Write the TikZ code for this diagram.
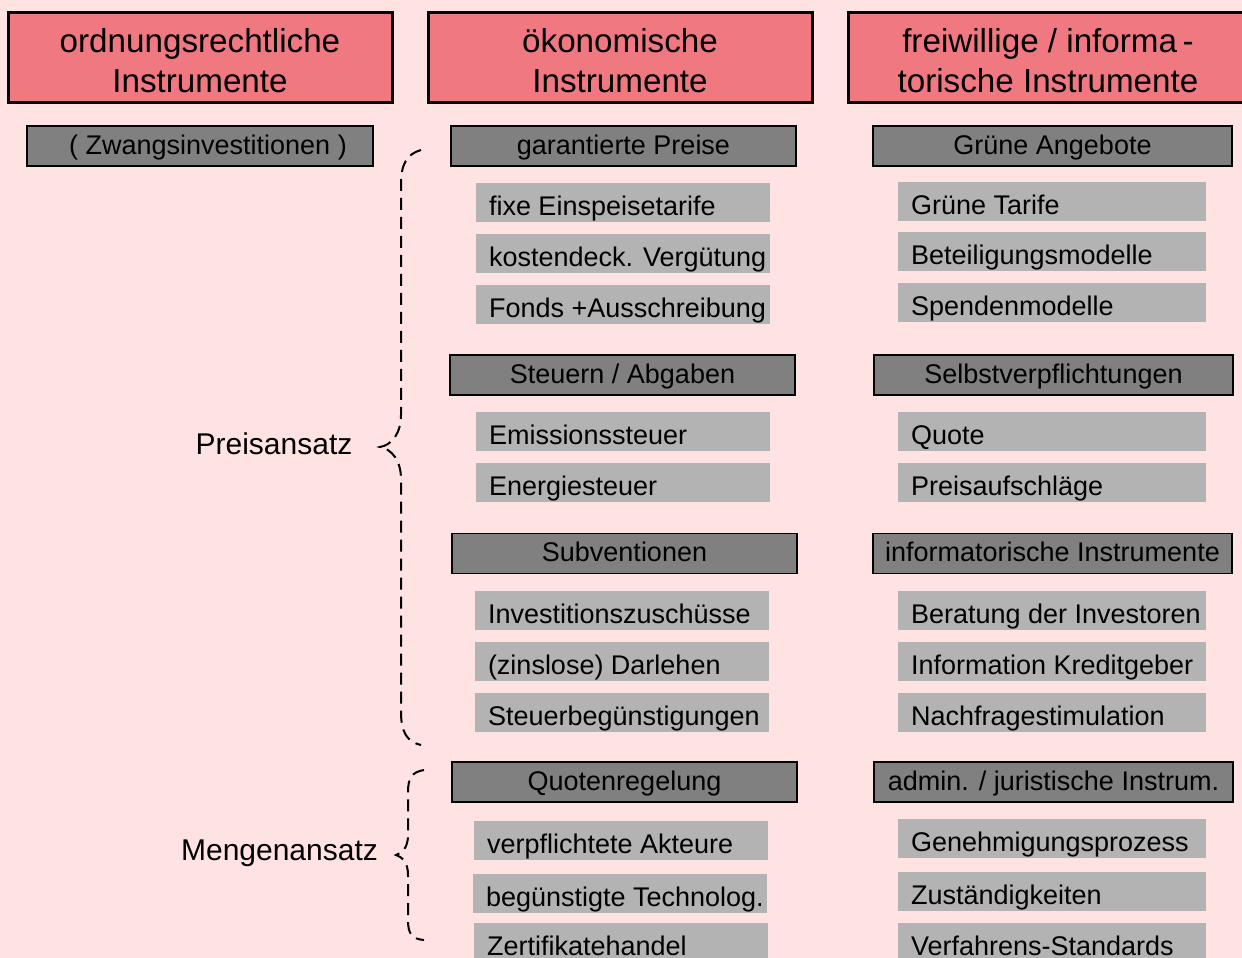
\documentclass[tikz,border=0pt]{standalone}
\usepackage{fontspec}
\setmainfont{Liberation Sans}
\usepackage{xcolor}
\usepackage{tikz}
\definecolor{hintergrund}{RGB}{255,226,226}
\definecolor{kopf}{RGB}{240,120,128}
\definecolor{dunkel}{RGB}{128,128,128}
\definecolor{hell}{RGB}{179,179,179}

\begin{document}
\begin{tikzpicture}[x=0.5pt,y=-0.5pt,
  kopfbox/.style={draw=black,line width=1.5pt,fill=kopf,minimum width=192pt,minimum height=45pt,
    align=center,text height=35pt,text depth=0pt,font=\fontsize{16.6}{20}\selectfont},
  dunkelbox/.style={draw=black,line width=0.75pt,fill=dunkel,minimum width=172.5pt,minimum height=20pt,
    inner sep=0pt,text height=10.5pt,text depth=2.5pt,font=\fontsize{13.5}{16}\selectfont},
  dunkelbreit/.style={dunkelbox,minimum width=179.5pt},
  hellbox/.style={fill=hell,minimum width=147pt,minimum height=19.5pt,inner sep=0pt},
  hellbreit/.style={hellbox,minimum width=154pt},
  helltext/.style={anchor=west,xshift=6.5pt,yshift=-2.5pt,inner sep=0pt,
    text height=10.5pt,text depth=2.5pt,font=\fontsize{13.5}{16}\selectfont},
  ansatz/.style={font=\fontsize{15}{18}\selectfont},
  klammer/.style={line width=1pt,dash pattern=on 6pt off 3.5pt}]
%Hintergrund
\useasboundingbox (0,0) rectangle (1242,958);
\clip (0,0) rectangle (1242,958);
\fill[hintergrund] (0,0) rectangle (1242,958);
%Kopfzeile
\node[kopfbox] (ordnung) at (200,57) {ordnungsrechtliche\\Instrumente};
\node[kopfbox] (oekonom) at (620,57) {ökonomische\\Instrumente};
\node[kopfbox,minimum width=200pt] (freiw) at (1048,57) {freiwillige / informa\,-\\torische Instrumente};
%ordnungsrechtlich
\node[dunkelbox,minimum width=173pt] (zwang) at (200,146) {\hspace{8pt}( Zwangsinvestitionen )};
%oekonomisch
\node[dunkelbox] (garpreis) at (623.5,146) {garantierte Preise};
\node[hellbox] (einspeis) at (623,202.5) {};
\node[helltext] (einspeis-t) at (einspeis.west) {fixe Einspeisetarife};
\node[hellbox] (kosten) at (623,253.5) {};
\node[helltext] (kosten-t) at (kosten.west) {kostendeck. Vergütung};
\node[hellbox] (fonds) at (623,304.5) {};
\node[helltext] (fonds-t) at (fonds.west) {Fonds +Ausschreibung};
\node[dunkelbox] (steuern) at (622.5,375) {Steuern / Abgaben};
\node[hellbox] (emission) at (623,431.5) {};
\node[helltext] (emission-t) at (emission.west) {Emissionssteuer};
\node[hellbox] (energie) at (623,482.5) {};
\node[helltext] (energie-t) at (energie.west) {Energiesteuer};
\node[dunkelbox] (subvent) at (624.5,553.5) {Subventionen};
\node[hellbox] (invest) at (622,610.5) {};
\node[helltext] (invest-t) at (invest.west) {Investitionszuschüsse};
\node[hellbox] (darlehen) at (622,661.5) {};
\node[helltext] (darlehen-t) at (darlehen.west) {(zinslose) Darlehen};
\node[hellbox] (steuerbeg) at (622,712.5) {};
\node[helltext] (steuerbeg-t) at (steuerbeg.west) {Steuerbegünstigungen};
\node[dunkelbox] (quote) at (624.5,782) {Quotenregelung};
\node[hellbox] (akteure) at (621,840.5) {};
\node[helltext] (akteure-t) at (akteure.west) {verpflichtete Akteure};
\node[hellbox] (technolog) at (620,893.5) {};
\node[helltext] (technolog-t) at (technolog.west) {begünstigte Technolog.};
\node[hellbox] (zertifikat) at (621,942) {};
\node[helltext] (zertifikat-t) at (zertifikat.west) {Zertifikatehandel};
%freiwillig / informatorisch
\node[dunkelbreit] (gruen) at (1052.5,146) {Grüne Angebote};
\node[hellbreit] (tarife) at (1052,201.5) {};
\node[helltext] (tarife-t) at (tarife.west) {Grüne Tarife};
\node[hellbreit] (beteil) at (1052,251.5) {};
\node[helltext] (beteil-t) at (beteil.west) {Beteiligungsmodelle};
\node[hellbreit] (spenden) at (1052,302.5) {};
\node[helltext] (spenden-t) at (spenden.west) {Spendenmodelle};
\node[dunkelbreit] (selbst) at (1053.5,375) {Selbstverpflichtungen};
\node[hellbreit] (quotefw) at (1052,431.5) {};
\node[helltext] (quotefw-t) at (quotefw.west) {Quote};
\node[hellbreit] (aufschlag) at (1052,482.5) {};
\node[helltext] (aufschlag-t) at (aufschlag.west) {Preisaufschläge};
\node[dunkelbreit] (inform) at (1052.5,553.5) {informatorische Instrumente};
\node[hellbreit] (beratung) at (1052,610.5) {};
\node[helltext] (beratung-t) at (beratung.west) {Beratung der Investoren};
\node[hellbreit] (kredit) at (1052,661.5) {};
\node[helltext] (kredit-t) at (kredit.west) {Information Kreditgeber};
\node[hellbreit] (nachfrage) at (1052,712.5) {};
\node[helltext] (nachfrage-t) at (nachfrage.west) {Nachfragestimulation};
\node[dunkelbreit] (admin) at (1053.5,782) {admin. / juristische Instrum.};
\node[hellbreit] (genehm) at (1052,838.5) {};
\node[helltext] (genehm-t) at (genehm.west) {Genehmigungsprozess};
\node[hellbreit] (zustaend) at (1052,891.5) {};
\node[helltext] (zustaend-t) at (zustaend.west) {Zuständigkeiten};
\node[hellbreit] (verfahren) at (1052,942) {};
\node[helltext] (verfahren-t) at (verfahren.west) {Verfahrens-Standards};
%Klammern
\node[ansatz] (preis) at (274,444) {Preisansatz};
\node[ansatz] (menge) at (279.5,853) {Mengenansatz};
\draw[klammer] (421,150) .. controls (407,154) and (401,164) .. (401,184) -- (401,415)
  .. controls (401,433) and (392,445) .. (380,447) .. controls (392,449) and (401,461) .. (401,479)
  -- (401,712) .. controls (401,732) and (407,742) .. (421,745);
\draw[klammer] (424,770) .. controls (412,772) and (408,778) .. (408,792) -- (408,835)
  .. controls (408,848) and (402,853) .. (396,855) .. controls (402,857) and (408,862) .. (408,875)
  -- (408,920) .. controls (408,934) and (412,939) .. (424,940);
\end{tikzpicture}
\end{document}
